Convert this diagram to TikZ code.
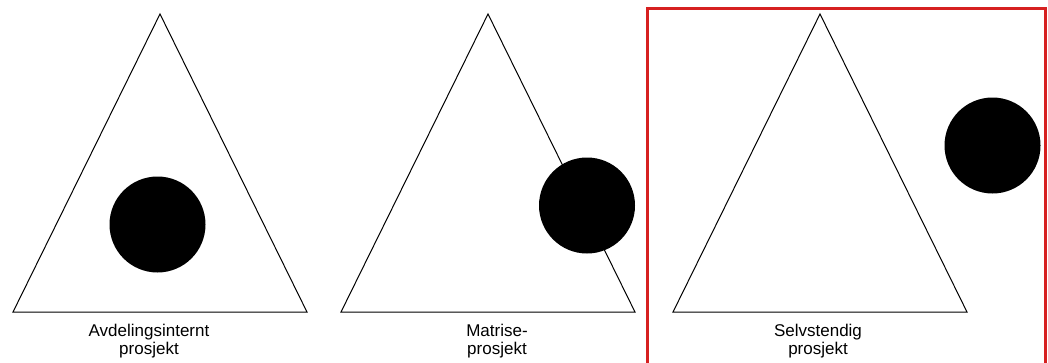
\documentclass[tikz,border=0pt]{standalone}
\usepackage{fontspec}
\setmainfont{Liberation Sans}
\usetikzlibrary{positioning}
\definecolor{framered}{RGB}{214,32,32}

\begin{document}
\begin{tikzpicture}[x=1pt,y=-1pt,font=\fontsize{17}{18}\selectfont,
  tri/.style={draw,line width=1pt,line join=miter},
  disc/.style={circle,fill=black,inner sep=0pt,minimum size=96pt},
  lab/.style={anchor=north,align=center,inner sep=0pt},
  frame/.style={draw=framered,line width=3pt}]
\useasboundingbox (0,0) rectangle (1048,362);
% the three project forms
\foreach \x/\nm/\lx/\txt in {160/a/149/{Avdelingsinternt\\prosjekt},488/b/497/{Matrise-\\prosjekt},820/c/818/{Selvstendig\\prosjekt}} {
  \coordinate (top-\nm) at (\x,14);
  \coordinate (bl-\nm) at (\x-147,312);
  \coordinate (br-\nm) at (\x+147,312);
  \draw[tri] (top-\nm) -- (br-\nm) -- (bl-\nm) -- cycle;
  \node[lab] (lab-\nm) at (\lx,324) {\txt};
}
\node[disc] (pa) at (157.5,224.5) {};
\node[disc] (pb) at (587,205.5) {};
\node[disc] (pc) at (992.5,145.5) {};
\draw[frame] (647,8) rectangle (1045.5,370);
\end{tikzpicture}
\end{document}
